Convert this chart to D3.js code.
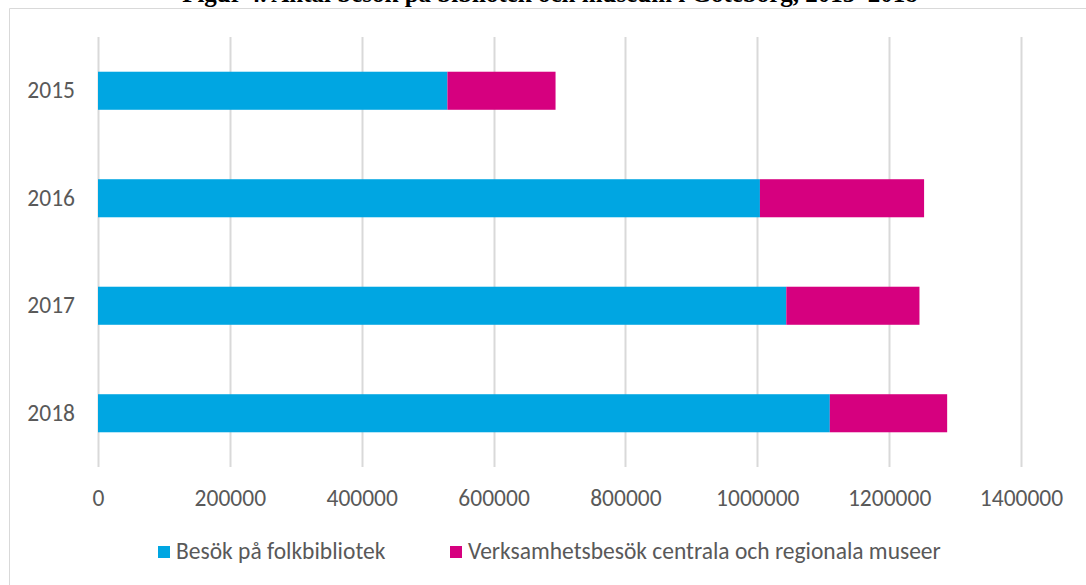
<!DOCTYPE html>
<html>
<head>
<meta charset="utf-8">
<script src="https://cdn.jsdelivr.net/npm/d3@7"></script>
<style>
  body { margin: 0; background: #fff; }
  svg { display: block; }
</style>
</head>
<body>
<svg id="chart" width="1086" height="585"></svg>
<script>
var years = ["2015", "2016", "2017", "2018"];
var bibliotek = [530000, 1004000, 1044000, 1110000];
var museer = [164000, 249000, 202000, 178000];
var xTicks = [0, 200000, 400000, 600000, 800000, 1000000, 1200000, 1400000];
var seriesNames = ["Besök på folkbibliotek", "Verksamhetsbesök centrala och regionala museer"];
var seriesColors = ["#00a6e2", "#d6007f"];
var titleText = "Figur 4. Antal besök på bibliotek och museum i Göteborg, 2015–2018";

var fontFam = "Calibri, Carlito, Lato, sans-serif";
var fontSize = "23.5px";
var textColor = "#595959";

var dimensions = {
  width: 1086,
  height: 585,
  margin: { top: 37, right: 65, bottom: 118, left: 98 }
};
dimensions.boundedWidth = dimensions.width - dimensions.margin.left - dimensions.margin.right;
dimensions.boundedHeight = dimensions.height - dimensions.margin.top - dimensions.margin.bottom;

var svg = d3.select("#chart");

// chart frame (cut off at top and right like the source)
svg.append("path")
  .attr("d", "M9.5,585 L9.5,8.5 L1086,8.5")
  .attr("fill", "none")
  .attr("stroke", "#d9d9d9")
  .attr("stroke-width", 1);

// title, clipped at the top edge in the source picture
svg.append("text")
  .attr("x", 550)
  .attr("y", 2)
  .attr("text-anchor", "middle")
  .style("font", "bold 25px 'Liberation Serif', 'Times New Roman', serif")
  .attr("fill", "#000")
  .text(titleText);

var xScale = d3.scaleLinear()
  .domain([0, 1400000])
  .range([0, dimensions.boundedWidth]);

var yScale = d3.scaleBand()
  .domain(years)
  .range([0, dimensions.boundedHeight])
  .paddingInner(0.646)
  .paddingOuter(0.323);

var bounds = svg.append("g")
  .attr("transform", "translate(" + dimensions.margin.left + "," + dimensions.margin.top + ")");

// gridlines
bounds.append("g")
  .selectAll("line")
  .data(xTicks)
  .enter()
  .append("line")
  .attr("x1", function (d) { return Math.round(xScale(d)) + 0.5; })
  .attr("x2", function (d) { return Math.round(xScale(d)) + 0.5; })
  .attr("y1", 0)
  .attr("y2", dimensions.boundedHeight)
  .attr("stroke", "#d9d9d9")
  .attr("stroke-width", 2);

// stacked bars
var table = years.map(function (y, i) {
  return { year: y, bibliotek: bibliotek[i], museer: museer[i] };
});
var stacked = d3.stack().keys(["bibliotek", "museer"])(table);

bounds.selectAll(".series")
  .data(stacked)
  .enter()
  .append("g")
  .attr("class", "series")
  .attr("fill", function (d, i) { return seriesColors[i]; })
  .selectAll("rect")
  .data(function (d) { return d; })
  .enter()
  .append("rect")
  .attr("x", function (d) { return xScale(d[0]); })
  .attr("width", function (d) { return xScale(d[1]) - xScale(d[0]); })
  .attr("y", function (d) { return yScale(d.data.year); })
  .attr("height", yScale.bandwidth());

// y axis labels
var yAxis = d3.axisLeft(yScale).tickSize(0).tickPadding(23);
var yG = bounds.append("g").call(yAxis);
yG.select(".domain").remove();
yG.selectAll("text")
  .style("font-family", fontFam)
  .style("font-size", fontSize)
  .attr("fill", textColor);

// x axis labels
var xAxis = d3.axisBottom(xScale).tickValues(xTicks).tickFormat(d3.format("d")).tickSize(0).tickPadding(0);
var xG = bounds.append("g")
  .attr("transform", "translate(0," + (dimensions.boundedHeight + 22) + ")")
  .call(xAxis);
xG.select(".domain").remove();
xG.selectAll("text")
  .attr("dy", "0.71em")
  .style("font-family", fontFam)
  .style("font-size", fontSize)
  .attr("fill", textColor);

// legend
var legendX = [158, 450];
var legend = svg.append("g");
var items = legend.selectAll("g")
  .data(seriesNames)
  .enter()
  .append("g")
  .attr("transform", function (d, i) { return "translate(" + legendX[i] + ",546)"; });
items.append("rect")
  .attr("width", 12)
  .attr("height", 12)
  .attr("fill", function (d, i) { return seriesColors[i]; });
items.append("text")
  .attr("x", 18)
  .attr("y", 13)
  .style("font-family", fontFam)
  .style("font-size", fontSize)
  .attr("fill", textColor)
  .text(function (d) { return d; });
</script>
</body>
</html>
